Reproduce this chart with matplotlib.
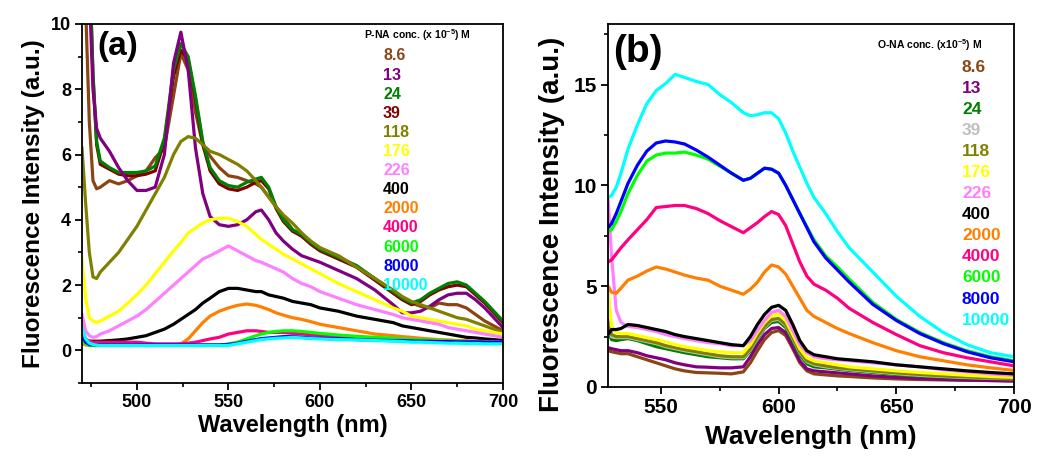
import matplotlib
matplotlib.use("Agg")
import matplotlib.pyplot as plt
from matplotlib.ticker import MultipleLocator

plt.rcParams['font.family'] = ['Liberation Sans', 'DejaVu Sans']
plt.rcParams['font.weight'] = 'bold'
plt.rcParams['mathtext.default'] = 'regular'

# ---------------- data ----------------
labels = ['8.6', '13', '24', '39', '118', '176', '226', '400', '2000', '4000', '6000', '8000', '10000']
colors_a = ['#8B4513', '#800080', '#008000', '#800000', '#808000', '#FFFF00', '#FF80FF',
            '#000000', '#FF8000', '#FF0080', '#00FF00', '#0000FF', '#00FFFF']
colors_b = ['#8B4513', '#800080', '#008000', '#C0C0C0', '#808000', '#FFFF00', '#FF80FF',
            '#000000', '#FF8000', '#FF0080', '#00FF00', '#0000FF', '#00FFFF']

wl_a = [470, 472, 474, 476, 478, 480, 485, 490, 495, 500, 505, 510, 515, 520, 524, 528,
        532, 536, 540, 545, 550, 555, 560, 565, 568, 572, 576, 580, 585, 590, 595, 600,
        610, 620, 630, 640, 645, 650, 655, 660, 665, 670, 675, 680, 685, 690, 695, 700]

a_86 = [14, 10.5, 7.0, 5.2, 4.95, 5.0, 5.2, 5.1, 5.2, 5.35, 5.5, 5.9, 6.2, 7.8, 9.1, 8.6,
        7.3, 6.3, 5.95, 5.6, 5.35, 5.3, 5.2, 5.1, 5.0, 4.7, 4.4, 4.1, 3.7, 3.5, 3.3, 3.1,
        2.9, 2.55, 2.2, 1.8, 1.6, 1.45, 1.35, 1.3, 1.45, 1.4, 1.4, 1.3, 1.1, 0.9, 0.75, 0.6]
a_13 = [14, 14, 11, 8.0, 6.8, 6.5, 6.1, 5.6, 5.2, 4.9, 4.9, 5.0, 6.0, 8.8, 9.75, 8.6,
        6.2, 4.8, 4.1, 3.85, 3.8, 3.85, 4.0, 4.25, 4.3, 4.0, 3.6, 3.35, 3.1, 2.9, 2.8, 2.7,
        2.45, 2.2, 1.85, 1.4, 1.15, 1.15, 1.2, 1.35, 1.55, 1.7, 1.75, 1.75, 1.55, 1.3, 1.0, 0.7]
a_24 = [14, 14, 12, 8.5, 6.4, 5.8, 5.6, 5.45, 5.45, 5.45, 5.5, 5.65, 6.5, 8.6, 9.4, 9.0,
        7.8, 6.4, 5.6, 5.2, 5.05, 5.0, 5.15, 5.25, 5.3, 5.0, 4.4, 4.0, 3.7, 3.55, 3.3, 3.1,
        2.85, 2.6, 2.2, 1.8, 1.6, 1.45, 1.55, 1.75, 1.9, 2.05, 2.1, 2.0, 1.75, 1.5, 1.2, 0.9]
a_39 = [14, 14, 12, 8.4, 6.3, 5.7, 5.55, 5.4, 5.35, 5.35, 5.4, 5.5, 6.4, 8.4, 9.2, 8.9,
        7.7, 6.3, 5.5, 5.1, 4.95, 4.9, 5.0, 5.15, 5.2, 4.95, 4.35, 3.95, 3.65, 3.5, 3.25, 3.05,
        2.8, 2.55, 2.15, 1.75, 1.55, 1.4, 1.5, 1.7, 1.85, 1.95, 2.0, 1.95, 1.7, 1.45, 1.15, 0.85]
a_118 = [6.2, 4.5, 3.0, 2.25, 2.2, 2.4, 2.7, 3.0, 3.4, 3.8, 4.3, 4.8, 5.3, 6.0, 6.4, 6.55,
         6.5, 6.3, 6.1, 6.0, 5.85, 5.7, 5.5, 5.2, 5.0, 4.7, 4.4, 4.15, 3.9, 3.6, 3.35, 3.15,
         2.9, 2.55, 2.2, 1.85, 1.65, 1.5, 1.4, 1.3, 1.2, 1.1, 1.0, 0.95, 0.85, 0.75, 0.65, 0.55]
a_176 = [2.8, 1.6, 1.0, 0.9, 0.85, 0.9, 1.05, 1.2, 1.45, 1.7, 2.0, 2.35, 2.7, 3.05, 3.3, 3.6,
         3.75, 3.9, 4.0, 4.05, 4.05, 3.95, 3.8, 3.55, 3.4, 3.25, 3.1, 2.95, 2.8, 2.65, 2.5, 2.35,
         2.05, 1.8, 1.55, 1.3, 1.2, 1.05, 1.0, 0.95, 0.9, 0.85, 0.8, 0.75, 0.65, 0.6, 0.55, 0.5]
a_226 = [1.1, 0.6, 0.45, 0.4, 0.42, 0.5, 0.6, 0.75, 0.9, 1.05, 1.25, 1.5, 1.75, 2.0, 2.2, 2.4,
         2.6, 2.8, 2.9, 3.05, 3.2, 3.05, 2.9, 2.75, 2.7, 2.6, 2.5, 2.4, 2.2, 2.05, 1.95, 1.8,
         1.6, 1.4, 1.25, 1.1, 1.0, 0.95, 0.9, 0.85, 0.8, 0.7, 0.65, 0.6, 0.55, 0.5, 0.45, 0.4]
a_400 = [0.35, 0.3, 0.28, 0.28, 0.28, 0.28, 0.3, 0.32, 0.35, 0.4, 0.45, 0.55, 0.65, 0.8, 0.95, 1.1,
         1.25, 1.45, 1.6, 1.8, 1.9, 1.9, 1.85, 1.8, 1.8, 1.7, 1.65, 1.6, 1.5, 1.45, 1.4, 1.3,
         1.2, 1.05, 0.95, 0.85, 0.75, 0.7, 0.65, 0.6, 0.55, 0.5, 0.45, 0.4, 0.38, 0.35, 0.33, 0.3]
a_2000 = [0.2, 0.17, 0.15, 0.15, 0.15, 0.15, 0.15, 0.15, 0.15, 0.15, 0.15, 0.15, 0.15, 0.15, 0.2, 0.35,
          0.6, 0.85, 1.05, 1.2, 1.3, 1.38, 1.42, 1.38, 1.33, 1.25, 1.15, 1.08, 1.0, 0.95, 0.88, 0.8,
          0.7, 0.6, 0.5, 0.45, 0.42, 0.4, 0.37, 0.35, 0.33, 0.32, 0.3, 0.3, 0.28, 0.27, 0.26, 0.25]
a_4000 = [0.6, 0.35, 0.28, 0.25, 0.25, 0.25, 0.25, 0.25, 0.25, 0.25, 0.22, 0.2, 0.2, 0.2, 0.2, 0.22,
          0.25, 0.3, 0.35, 0.4, 0.5, 0.55, 0.6, 0.6, 0.58, 0.55, 0.55, 0.55, 0.52, 0.5, 0.48, 0.46,
          0.42, 0.4, 0.37, 0.35, 0.33, 0.32, 0.3, 0.3, 0.29, 0.28, 0.27, 0.26, 0.26, 0.25, 0.25, 0.25]
a_6000 = [0.3, 0.2, 0.15, 0.15, 0.15, 0.15, 0.15, 0.15, 0.15, 0.15, 0.15, 0.15, 0.15, 0.15, 0.15, 0.15,
          0.15, 0.15, 0.15, 0.15, 0.2, 0.25, 0.35, 0.45, 0.5, 0.55, 0.58, 0.6, 0.6, 0.58, 0.55, 0.52,
          0.47, 0.43, 0.4, 0.37, 0.35, 0.34, 0.32, 0.31, 0.3, 0.29, 0.28, 0.27, 0.26, 0.25, 0.25, 0.24]
a_8000 = [0.5, 0.25, 0.18, 0.17, 0.17, 0.17, 0.17, 0.17, 0.17, 0.17, 0.17, 0.17, 0.17, 0.17, 0.17, 0.17,
          0.17, 0.17, 0.17, 0.17, 0.18, 0.22, 0.28, 0.33, 0.36, 0.38, 0.4, 0.42, 0.42, 0.4, 0.38, 0.37,
          0.35, 0.33, 0.31, 0.3, 0.3, 0.29, 0.28, 0.28, 0.27, 0.27, 0.26, 0.26, 0.26, 0.25, 0.25, 0.25]
a_10000 = [0.7, 0.35, 0.22, 0.18, 0.16, 0.15, 0.15, 0.15, 0.15, 0.15, 0.15, 0.15, 0.15, 0.15, 0.15, 0.15,
           0.15, 0.15, 0.15, 0.15, 0.15, 0.2, 0.25, 0.3, 0.33, 0.35, 0.37, 0.38, 0.4, 0.38, 0.36, 0.35,
           0.33, 0.32, 0.3, 0.28, 0.27, 0.25, 0.25, 0.24, 0.23, 0.22, 0.22, 0.21, 0.21, 0.2, 0.2, 0.2]

wl_b = [527.5, 529, 531, 533, 536, 540, 544, 548, 552, 556, 560, 565, 570, 575, 580, 585, 588, 591,
        594, 597, 600, 603, 606, 609, 612, 615, 620, 625, 630, 640, 650, 660, 670, 680, 690, 700]

b_86 = [1.8, 1.75, 1.7, 1.65, 1.65, 1.5, 1.35, 1.2, 1.05, 0.9, 0.8, 0.72, 0.7, 0.68, 0.65, 0.75, 1.2, 1.8,
        2.35, 2.7, 2.8, 2.55, 1.9, 1.2, 0.8, 0.65, 0.6, 0.55, 0.52, 0.45, 0.4, 0.37, 0.35, 0.33, 0.32, 0.3]
b_13 = [1.95, 1.9, 1.85, 1.8, 1.8, 1.7, 1.55, 1.45, 1.35, 1.2, 1.1, 1.0, 0.98, 0.95, 0.95, 1.0, 1.5, 2.1,
        2.6, 2.9, 2.95, 2.7, 2.0, 1.3, 0.9, 0.8, 0.75, 0.7, 0.65, 0.55, 0.48, 0.42, 0.38, 0.35, 0.32, 0.3]
b_24 = [2.8, 2.35, 2.3, 2.35, 2.4, 2.3, 2.15, 2.0, 1.9, 1.8, 1.7, 1.6, 1.5, 1.45, 1.4, 1.4, 1.8, 2.4,
        2.9, 3.2, 3.25, 2.95, 2.3, 1.6, 1.15, 1.0, 0.95, 0.88, 0.82, 0.72, 0.62, 0.55, 0.5, 0.45, 0.42, 0.4]
b_39 = [3.1, 2.5, 2.45, 2.45, 2.45, 2.35, 2.25, 2.15, 2.0, 1.9, 1.8, 1.7, 1.6, 1.5, 1.45, 1.45, 1.85, 2.45,
        2.95, 3.3, 3.35, 3.05, 2.4, 1.7, 1.25, 1.1, 1.0, 0.92, 0.86, 0.76, 0.66, 0.58, 0.52, 0.47, 0.43, 0.41]
b_118 = [3.3, 2.6, 2.5, 2.5, 2.5, 2.4, 2.3, 2.2, 2.05, 1.95, 1.85, 1.75, 1.65, 1.55, 1.5, 1.5, 1.9, 2.5,
         3.0, 3.35, 3.4, 3.1, 2.45, 1.75, 1.3, 1.15, 1.05, 0.95, 0.9, 0.8, 0.7, 0.62, 0.55, 0.5, 0.45, 0.42]
b_176 = [4.8, 3.0, 2.7, 2.65, 2.65, 2.55, 2.45, 2.35, 2.25, 2.1, 2.0, 1.9, 1.8, 1.75, 1.7, 1.7, 2.1, 2.7,
         3.2, 3.55, 3.6, 3.3, 2.6, 1.9, 1.45, 1.3, 1.2, 1.1, 1.0, 0.9, 0.8, 0.72, 0.65, 0.58, 0.52, 0.48]
b_226 = [9.4, 6.5, 3.8, 3.2, 3.0, 2.95, 2.85, 2.75, 2.6, 2.5, 2.4, 2.3, 2.2, 2.15, 2.05, 2.05, 2.3, 2.8,
         3.3, 3.7, 3.8, 3.5, 2.8, 2.1, 1.7, 1.5, 1.4, 1.35, 1.3, 1.2, 1.1, 1.0, 0.85, 0.75, 0.65, 0.58]
b_400 = [2.6, 2.85, 2.85, 2.9, 3.1, 3.05, 2.95, 2.85, 2.75, 2.6, 2.5, 2.4, 2.3, 2.2, 2.1, 2.05, 2.5, 3.1,
         3.6, 3.95, 4.05, 3.8, 3.1, 2.3, 1.8, 1.6, 1.5, 1.4, 1.35, 1.25, 1.1, 1.0, 0.9, 0.8, 0.72, 0.65]
b_2000 = [5.0, 4.7, 4.65, 4.9, 5.3, 5.5, 5.75, 5.95, 5.85, 5.7, 5.55, 5.4, 5.3, 5.0, 4.8, 4.6, 4.85, 5.2,
          5.7, 6.05, 5.95, 5.6, 5.0, 4.4, 3.8, 3.5, 3.2, 2.9, 2.65, 2.2, 1.8, 1.5, 1.3, 1.1, 0.95, 0.82]
b_4000 = [6.2, 6.3, 6.6, 6.9, 7.3, 7.8, 8.3, 8.9, 8.95, 9.0, 9.0, 8.85, 8.6, 8.25, 7.95, 7.65, 7.9, 8.15,
          8.45, 8.7, 8.55, 8.0, 7.1, 6.2, 5.5, 5.1, 4.8, 4.4, 3.9, 3.2, 2.6, 2.05, 1.7, 1.45, 1.25, 1.05]
b_6000 = [7.7, 7.8, 8.2, 8.7, 9.6, 10.5, 11.2, 11.5, 11.6, 11.6, 11.65, 11.5, 11.3, 10.95, 10.6, 10.25, 10.35, 10.6,
          10.85, 10.8, 10.6, 10.0, 9.3, 8.6, 7.95, 7.3, 6.5, 5.95, 5.35, 4.2, 3.35, 2.7, 2.2, 1.8, 1.5, 1.3]
b_8000 = [7.9, 8.1, 8.6, 9.2, 10.1, 11.0, 11.7, 12.1, 12.2, 12.15, 12.05, 11.75, 11.4, 11.0, 10.6, 10.25, 10.35, 10.6,
          10.85, 10.8, 10.6, 10.0, 9.3, 8.6, 7.9, 7.2, 6.4, 5.8, 5.2, 4.1, 3.3, 2.65, 2.15, 1.75, 1.45, 1.25]
b_10000 = [9.4, 9.5, 9.9, 10.6, 11.8, 13.0, 14.05, 14.7, 15.05, 15.5, 15.35, 15.15, 15.0, 14.5, 14.1, 13.6, 13.45, 13.5,
           13.6, 13.6, 13.3, 12.6, 11.7, 10.9, 10.1, 9.4, 8.6, 7.7, 6.9, 5.7, 4.5, 3.5, 2.7, 2.1, 1.7, 1.5]

series_a = [a_86, a_13, a_24, a_39, a_118, a_176, a_226, a_400, a_2000, a_4000, a_6000, a_8000, a_10000]
series_b = [b_86, b_13, b_24, b_39, b_118, b_176, b_226, b_400, b_2000, b_4000, b_6000, b_8000, b_10000]

# ---------------- figure ----------------
W, H = 1037, 457
fig = plt.figure(figsize=(W / 100, H / 100), dpi=100)

def px_axes(l, t, r, b):
    return fig.add_axes([l / W, 1 - b / H, (r - l) / W, (b - t) / H])

def fpx(x, y):
    return x / W, 1 - y / H

ax1 = px_axes(82, 24, 503, 383)
ax2 = px_axes(608, 24, 1014, 387)

# panel a draw order (39 below 24)
order_a = [0, 3, 2, 1, 4, 5, 6, 7, 8, 9, 10, 11, 12]
for i in order_a:
    ax1.plot(wl_a, series_a[i], color=colors_a[i], lw=2.3, solid_joinstyle='round')
for i in range(len(labels)):
    ax2.plot(wl_b, series_b[i], color=colors_b[i], lw=2.3, solid_joinstyle='round')

ax1.set_xlim(470, 700)
ax1.set_ylim(-1, 10)
ax1.xaxis.set_major_locator(MultipleLocator(50))
ax1.xaxis.set_minor_locator(MultipleLocator(25))
ax1.yaxis.set_major_locator(MultipleLocator(2))
ax1.yaxis.set_minor_locator(MultipleLocator(1))

ax2.set_xlim(527.5, 700)
ax2.set_ylim(0, 18)
ax2.xaxis.set_major_locator(MultipleLocator(50))
ax2.xaxis.set_minor_locator(MultipleLocator(25))
ax2.yaxis.set_major_locator(MultipleLocator(5))
ax2.yaxis.set_minor_locator(MultipleLocator(2.5))

for ax, tfs in ((ax1, 13), (ax2, 15)):
    for sp in ax.spines.values():
        sp.set_linewidth(1.3)
    ax.tick_params(which='major', direction='out', length=5, width=1.3, labelsize=tfs, pad=3)
    ax.tick_params(which='minor', direction='out', length=3, width=1.2)
    for lab in ax.get_xticklabels() + ax.get_yticklabels():
        lab.set_fontweight('bold')

ax1.set_xlabel('Wavelength (nm)', fontsize=17, fontweight='bold', labelpad=2)
ax1.set_ylabel('Fluorescence Intensity (a.u.)', fontsize=17.5, fontweight='bold', labelpad=4)
ax2.set_xlabel('Wavelength (nm)', fontsize=19, fontweight='bold', labelpad=6)
ax2.set_ylabel('Fluorescence Intensity (a.u.)', fontsize=20, fontweight='bold')
ax2.yaxis.set_label_coords(-0.106, 0.449)

fig.text(*fpx(118, 47), '(a)', fontsize=24, fontweight='bold', ha='center', va='center')
fig.text(*fpx(638, 52), '(b)', fontsize=28, fontweight='bold', ha='center', va='center')

# legends (text-only)
fig.text(*fpx(417, 35), 'P-NA conc. (x 10$^{-5}$) M', fontsize=7.5, fontweight='bold',
         ha='center', va='center')
for k, lab in enumerate(labels):
    fig.text(*fpx(383, 56 + k * 19.1), lab, fontsize=11.5, fontweight='bold',
             color=colors_a[k], ha='left', va='center')

fig.text(*fpx(930, 45), 'O-NA conc. (x10$^{-5}$) M', fontsize=7.5, fontweight='bold',
         ha='center', va='center')
for k, lab in enumerate(labels):
    fig.text(*fpx(962, 67 + k * 21.1), lab, fontsize=12.5, fontweight='bold',
             color=colors_b[k], ha='left', va='center')

fig.savefig('out.png', dpi=100)
